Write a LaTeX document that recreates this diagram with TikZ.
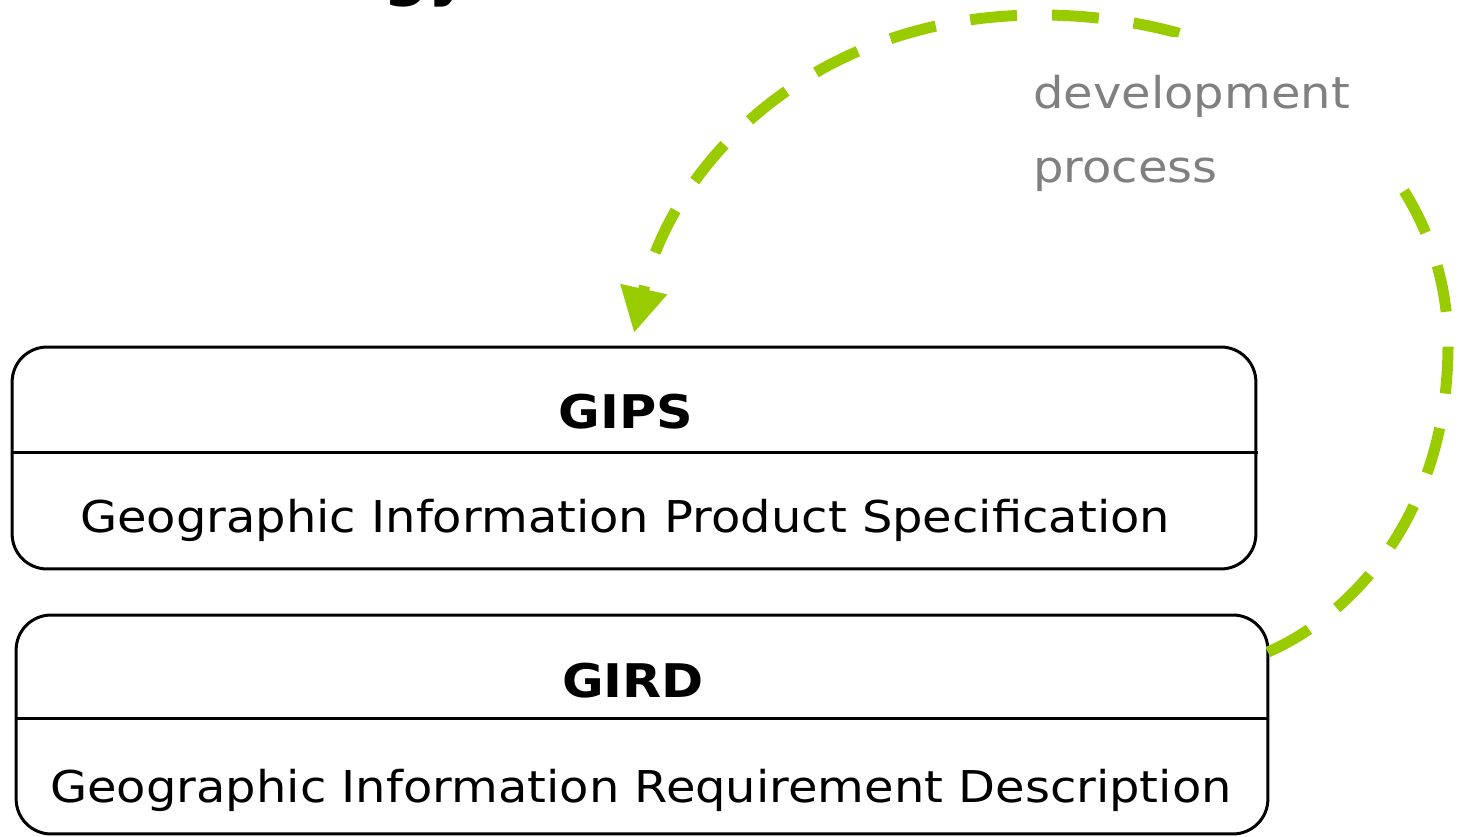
\documentclass[tikz,border=0pt]{standalone}
\usepackage{fontspec}
\setmainfont{DejaVu Sans}
\newfontfamily\widesans[FakeStretch=1.095]{DejaVu Sans}
\usetikzlibrary{arrows.meta,calc}
\definecolor{flowgreen}{HTML}{99CC00}
\definecolor{labelgray}{HTML}{808080}

\begin{document}
\begin{tikzpicture}[x=0.02cm,y=0.02cm,
  specbox/.style={draw=black, line width=0.06cm, rounded corners=0.7cm,
    outer sep=0pt, inner sep=0pt},
  divider/.style={draw=black, line width=0.06cm},
  boxtitle/.style={font=\widesans\fontsize{26.4}{30}\selectfont\bfseries, inner sep=0pt, anchor=base},
  boxtext/.style={font=\widesans\fontsize{24.94}{30}\selectfont, inner sep=0pt, anchor=base},
  flow/.style={draw=flowgreen, line width=0.22cm, dash pattern=on 0.94cm off 0.7cm,
    -{Triangle[length=0.9cm,width=0.9cm]}},
  flowlabel/.style={font=\widesans\fontsize{24.94}{42.5}\selectfont, text=labelgray,
    align=left, fill=white, inner xsep=0.78cm, inner ysep=0.76cm, anchor=base west},
  headline/.style={font=\fontsize{36}{40}\selectfont\bfseries, inner sep=0pt}
]
\useasboundingbox (0,0) rectangle (1459,837);

% heading, mostly above the page
\node[headline, anchor=base west] (heading) at (383,843) {gy};

% GIPS
\node[specbox, minimum width=24.88cm, minimum height=4.44cm] (gips) at (634,379) {};
\draw[divider] (gips.west |- 0,384) -- ([xshift=0.05cm]gips.east |- 0,384);
\node[boxtitle] (gipstitle) at (626,408) {GIPS};
\node[boxtext] (gipsdesc) at (625,304) {Geographic Information Product Specification};

% GIRD
\node[specbox, minimum width=25.04cm, minimum height=4.38cm] (gird) at (642,112.5) {};
\draw[divider] (gird.west |- 0,118) -- (gird.east |- 0,118);
\node[boxtitle] (girdtitle) at (633,139) {GIRD};
\node[boxtext] (girddesc) at (641,34) {Geographic Information Requirement Description};

% development cycle from GIRD back to GIPS
\coordinate (flowstart) at ([yshift=-0.74cm]gird.north east);
\coordinate (flowend) at ([yshift=0.28cm]gips.north);
\draw[flow] (flowstart)
  .. controls (1351,221) and (1448,322) .. (1448,492)
  .. controls (1448,682) and (1270,822) .. (1040,822)
  .. controls (810,822) and (671,670) .. (flowend);

% label on a white ground, interrupting the dashed cycle
\node[flowlabel] (devlabel) at (994,654) {development\\process};
\end{tikzpicture}
\end{document}
